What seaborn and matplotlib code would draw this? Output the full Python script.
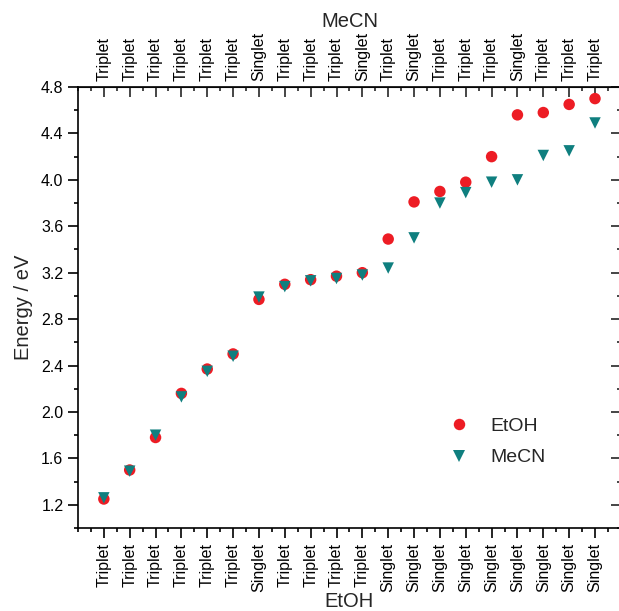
import numpy as np
import pandas as pd
import seaborn as sns
import matplotlib.pyplot as plt
from matplotlib.ticker import MultipleLocator

# excited states, in order of EtOH energy
state = list(range(1, 21))
etoh_energy = [1.25, 1.50, 1.78, 2.16, 2.37, 2.50, 2.97, 3.10, 3.14, 3.17,
               3.20, 3.49, 3.81, 3.90, 3.98, 4.20, 4.56, 4.58, 4.65, 4.70]
mecn_energy = [1.26, 1.49, 1.80, 2.13, 2.35, 2.48, 2.99, 3.08, 3.13, 3.15,
               3.18, 3.24, 3.50, 3.80, 3.89, 3.98, 4.00, 4.21, 4.25, 4.49]
etoh_labels = ['Triplet'] * 6 + ['Singlet'] + ['Triplet'] * 4 + ['Singlet'] * 9
mecn_labels = (['Triplet'] * 6 + ['Singlet'] + ['Triplet'] * 3 + ['Singlet', 'Triplet', 'Singlet']
               + ['Triplet'] * 3 + ['Singlet'] + ['Triplet'] * 3)

df = pd.concat([
    pd.DataFrame({'state': state, 'energy': etoh_energy, 'solvent': 'EtOH'}),
    pd.DataFrame({'state': state, 'energy': mecn_energy, 'solvent': 'MeCN'}),
])

sns.set_style('ticks')
plt.rcParams['font.family'] = ['Liberation Sans', 'DejaVu Sans']

fig = plt.figure(figsize=(6.19, 6.11), dpi=100)
ax = fig.add_axes([0.126, 0.1358, 0.877, 0.7218])

sns.scatterplot(data=df, x='state', y='energy', hue='solvent', style='solvent',
                palette={'EtOH': '#ED1C24', 'MeCN': '#0F7F7F'},
                markers={'EtOH': 'o', 'MeCN': 'v'}, s=68, linewidth=0, ax=ax)

ax.set_xlim(0, 21)
ax.set_ylim(1.0, 4.8)
ax.set_xticks(state)
ax.set_xticklabels(etoh_labels, rotation=90, fontsize=11.5)
ax.xaxis.set_minor_locator(MultipleLocator(0.5))
ax.yaxis.set_major_locator(MultipleLocator(0.4))
ax.yaxis.set_minor_locator(MultipleLocator(0.2))
ax.yaxis.set_major_formatter(lambda v, p: f'{v:.1f}' if v >= 1.1 else '')
ax.tick_params(axis='both', which='major', direction='out', length=7, width=1.2,
               labelsize=11.5, color='black', labelcolor='black')
ax.tick_params(axis='both', which='minor', direction='out', length=3, width=1.2, color='black')
ax.tick_params(axis='x', pad=4)
for side in ['left', 'bottom', 'top', 'right']:
    ax.spines[side].set_visible(True)
    ax.spines[side].set_linewidth(1.2)
    ax.spines[side].set_color('black')

top = ax.secondary_xaxis('top')
top.set_xticks(state)
top.set_xticklabels(mecn_labels, rotation=90, fontsize=11.5, color='black')
top.xaxis.set_minor_locator(MultipleLocator(0.5))
top.tick_params(which='major', direction='in', length=7, width=1.2, pad=4)
top.tick_params(which='minor', direction='in', length=3, width=1.2)
top.set_xlabel('MeCN', fontsize=14.5, labelpad=4)

right = ax.secondary_yaxis('right')
right.yaxis.set_major_locator(MultipleLocator(0.4))
right.yaxis.set_minor_locator(MultipleLocator(0.2))
right.tick_params(which='major', direction='in', length=7, width=1.2, labelright=False)
right.tick_params(which='minor', direction='in', length=3, width=1.2)

ax.set_xlabel('EtOH', fontsize=14.5, labelpad=0)
ax.set_ylabel('Energy / eV', fontsize=14.5, labelpad=6)

ax.legend(title=None, frameon=False, loc='center left', bbox_to_anchor=(0.634, 0.195),
          fontsize=14, handletextpad=0.6, labelspacing=0.7, markerscale=1.0)

fig.savefig('out.png', dpi=100)
